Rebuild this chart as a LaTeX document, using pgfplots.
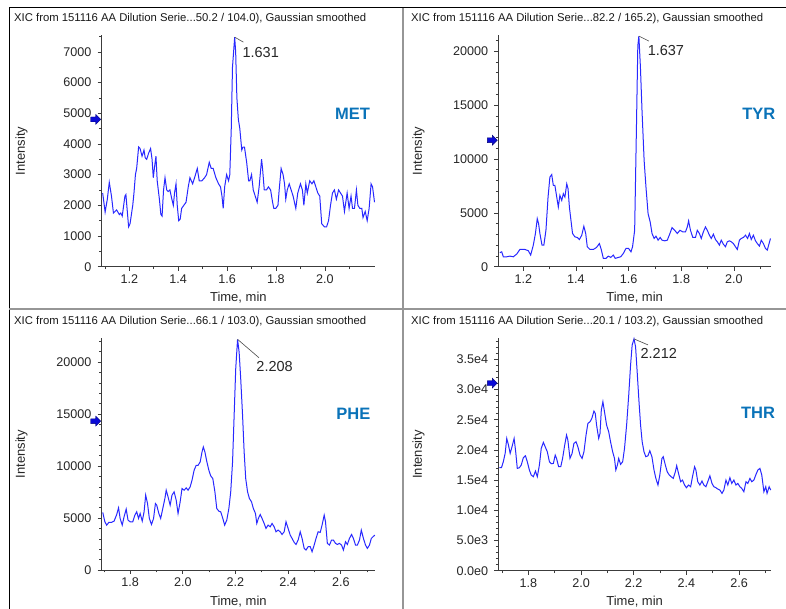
\documentclass[border=0pt]{standalone}
\usepackage{pgfplots}
\pgfplotsset{compat=1.18}
\usepackage{fontspec}
\setmainfont{Liberation Sans}
\definecolor{cmp}{RGB}{10,115,185}
\definecolor{trace}{RGB}{40,40,255}
\definecolor{axgray}{RGB}{60,60,60}
\definecolor{arr}{RGB}{10,10,215}
\definecolor{arrd}{RGB}{0,0,120}
\definecolor{sep}{RGB}{150,150,150}

\pgfplotstableread{
x y
1.091 2400
1.101 1780
1.110 2200
1.118 2750
1.127 2300
1.135 1750
1.148 1850
1.159 1700
1.165 1750
1.171 1650
1.182 2300
1.186 2350
1.197 1300
1.203 1400
1.214 2000
1.219 2400
1.225 3000
1.230 3200
1.238 3900
1.244 3850
1.252 3600
1.260 3800
1.265 3550
1.271 3500
1.279 3700
1.287 3850
1.293 3500
1.298 2900
1.304 3300
1.309 3600
1.314 2800
1.323 2200
1.329 1700
1.334 1650
1.340 2500
1.346 2900
1.353 2500
1.359 2450
1.366 2500
1.374 2200
1.380 2000
1.385 2400
1.391 2700
1.396 2000
1.402 1500
1.408 1550
1.414 1900
1.423 2000
1.432 2100
1.441 2600
1.448 2900
1.459 2700
1.467 2900
1.478 3200
1.486 2800
1.497 2800
1.508 2900
1.516 3000
1.527 3400
1.535 3200
1.543 3200
1.554 2900
1.565 2700
1.573 2600
1.579 2300
1.584 1900
1.590 2600
1.598 3000
1.606 2800
1.611 3000
1.617 4500
1.622 6500
1.631 7480
1.635 7000
1.640 5500
1.646 4800
1.652 4500
1.660 3800
1.665 3900
1.671 3900
1.680 3400
1.688 2800
1.693 2800
1.700 3000
1.707 2500
1.715 2300
1.723 2100
1.731 2600
1.741 3500
1.745 3200
1.752 2500
1.761 2500
1.769 2600
1.778 2500
1.786 2100
1.791 1900
1.799 1900
1.808 2000
1.813 2500
1.821 3200
1.829 3000
1.835 2700
1.840 2200
1.846 2500
1.854 2700
1.862 2500
1.870 2300
1.881 1900
1.889 2400
1.900 2700
1.908 2500
1.914 2000
1.922 2700
1.928 2400
1.938 2800
1.947 2700
1.955 2800
1.963 2600
1.971 2400
1.979 2300
1.987 1400
1.998 1300
2.007 1300
2.015 1500
2.023 2000
2.031 2400
2.039 2500
2.047 2200
2.056 2500
2.064 2400
2.072 2300
2.080 1800
2.091 2400
2.099 1900
2.107 2300
2.113 1900
2.121 1900
2.129 2500
2.135 2000
2.143 1900
2.151 1900
2.156 1600
2.165 1800
2.173 1500
2.181 1900
2.189 2700
2.195 2600
2.203 2100
}\met

\pgfplotstableread{
x y
1.111 1300
1.118 1380
1.124 920
1.137 920
1.149 980
1.162 920
1.175 1170
1.187 1600
1.206 1600
1.219 1480
1.228 1080
1.238 2000
1.246 3080
1.253 4460
1.258 4000
1.263 3080
1.271 2000
1.278 2000
1.286 3380
1.294 6460
1.301 8310
1.308 8550
1.314 7540
1.320 7540
1.327 6460
1.333 5540
1.339 6620
1.346 6150
1.352 6770
1.358 6460
1.365 7690
1.370 7230
1.375 5540
1.381 4310
1.387 3080
1.396 2770
1.405 2710
1.413 2520
1.422 2920
1.430 3750
1.437 3080
1.443 1850
1.453 1600
1.466 1600
1.478 1780
1.489 2150
1.496 1600
1.504 770
1.514 770
1.523 980
1.532 860
1.542 1080
1.549 770
1.561 860
1.570 920
1.580 1230
1.590 1690
1.600 1690
1.609 1380
1.615 1850
1.623 3380
1.630 13230
1.635 20500
1.639 21400
1.645 18460
1.651 14460
1.659 9850
1.666 7380
1.674 4920
1.682 4150
1.689 3080
1.697 2620
1.704 2830
1.712 2460
1.720 2710
1.727 2460
1.737 2400
1.747 2460
1.757 3080
1.765 3630
1.775 3380
1.785 3080
1.795 3380
1.806 3230
1.816 3230
1.823 3690
1.828 4250
1.835 3380
1.844 2710
1.854 2710
1.861 3380
1.869 3080
1.876 2620
1.884 3230
1.892 3690
1.899 3380
1.907 2920
1.914 2620
1.922 3020
1.930 2520
1.937 2310
1.945 2000
1.952 2460
1.960 2090
1.968 1850
1.975 2310
1.983 2400
1.990 2310
1.998 2150
2.006 1850
2.013 1600
2.021 2460
2.028 2620
2.036 2710
2.044 2920
2.052 2620
2.059 3080
2.066 2520
2.074 2920
2.082 2400
2.089 2150
2.097 1910
2.104 2460
2.112 2150
2.120 1690
2.127 1540
2.132 2000
2.139 2620
}\tyr

\pgfplotstableread{
x y
1.696 5540
1.704 4640
1.711 4320
1.719 4580
1.729 4580
1.739 4700
1.749 5340
1.756 5980
1.762 4960
1.770 4320
1.777 5120
1.785 5860
1.792 4800
1.800 4640
1.810 4640
1.818 5280
1.825 5600
1.832 4960
1.838 5440
1.846 4700
1.853 5600
1.859 7200
1.866 6400
1.873 4960
1.881 4380
1.889 4960
1.896 6400
1.901 6240
1.909 5440
1.916 4960
1.924 5920
1.932 6880
1.937 7680
1.944 7040
1.952 6240
1.959 7200
1.967 7520
1.975 6720
1.982 5440
1.990 6560
1.997 7840
2.005 7680
2.013 7900
2.020 7680
2.028 8000
2.035 8640
2.043 9600
2.051 10080
2.058 10080
2.066 10400
2.073 11360
2.078 11840
2.084 11360
2.091 10460
2.099 9600
2.106 9060
2.114 8800
2.122 7520
2.129 5920
2.137 5660
2.144 5600
2.152 4960
2.159 4320
2.167 4800
2.175 5920
2.182 7520
2.189 10400
2.195 14880
2.201 19360
2.208 22200
2.214 20960
2.220 18400
2.227 14880
2.233 11360
2.239 8800
2.246 7520
2.253 6880
2.261 6560
2.268 5920
2.276 5440
2.281 4480
2.287 4960
2.294 5340
2.301 4960
2.309 4480
2.316 4000
2.324 4320
2.332 4160
2.339 4480
2.347 4160
2.354 3680
2.362 3840
2.370 3680
2.377 3420
2.385 3680
2.392 4640
2.400 4000
2.408 3360
2.415 3040
2.423 2660
2.430 2460
2.438 2880
2.446 3680
2.453 3040
2.461 2080
2.468 1920
2.476 2240
2.484 2240
2.491 1760
2.499 2400
2.506 3040
2.514 3680
2.522 3620
2.529 4320
2.537 5280
2.542 4640
2.549 2560
2.557 2400
2.565 2880
2.572 2880
2.580 2560
2.587 2460
2.595 2560
2.603 2400
2.610 1920
2.618 2720
2.625 2460
2.633 3040
2.641 3420
2.648 3040
2.656 2400
2.663 2400
2.671 2880
2.678 3840
2.686 3040
2.694 2400
2.701 2080
2.709 2400
2.716 3040
2.729 3360
}\phe

\pgfplotstableread{
x y
1.690 17060
1.698 17060
1.705 18050
1.712 19430
1.718 21910
1.724 20920
1.731 19430
1.738 20530
1.746 21910
1.752 19700
1.758 16950
1.766 17060
1.773 17500
1.781 18710
1.789 19040
1.796 18050
1.804 16670
1.811 15840
1.819 15570
1.827 16500
1.834 15570
1.842 17500
1.849 20260
1.857 21250
1.864 20530
1.872 19700
1.880 18050
1.887 17720
1.895 17770
1.902 19150
1.907 18600
1.915 17220
1.923 17220
1.930 18600
1.938 20810
1.945 22470
1.950 21640
1.958 18600
1.966 19430
1.973 21090
1.981 21360
1.988 20530
1.996 19150
2.004 18600
2.011 19700
2.019 22470
2.026 24400
2.034 24670
2.041 25230
2.049 26440
2.054 26050
2.059 24120
2.067 21910
2.072 22740
2.077 26610
2.083 27990
2.089 26330
2.097 24120
2.105 23020
2.112 21360
2.120 19700
2.127 18600
2.132 16670
2.138 17500
2.143 18600
2.150 17610
2.158 18050
2.165 20260
2.173 24120
2.181 29090
2.188 34060
2.194 37370
2.201 38400
2.207 37090
2.213 32950
2.220 27990
2.226 24120
2.232 21360
2.239 19700
2.246 18880
2.254 19040
2.261 19870
2.269 18880
2.277 16670
2.284 15290
2.292 14190
2.299 15840
2.307 18600
2.312 18880
2.320 17500
2.327 16390
2.335 15840
2.342 15570
2.350 15290
2.358 16390
2.363 17390
2.370 16120
2.378 14740
2.385 15010
2.393 14190
2.400 13740
2.408 14190
2.416 13910
2.423 15570
2.431 17220
2.436 16670
2.443 14740
2.451 14190
2.459 14850
2.466 14190
2.474 13910
2.481 14740
2.489 15730
2.497 14460
2.504 13910
2.512 13740
2.519 13520
2.527 13360
2.535 12810
2.542 13360
2.550 15010
2.557 14190
2.565 15400
2.572 14460
2.580 15010
2.588 14190
2.595 14460
2.603 13910
2.610 13630
2.618 13080
2.626 14740
2.633 14460
2.641 15290
2.648 14740
2.656 15010
2.663 15840
2.671 16670
2.679 16950
2.686 15840
2.694 13080
2.701 13910
2.706 12810
2.714 13910
2.720 13360
}\thr

\pgfplotsset{
  xic/.style={
    scale only axis,
    axis lines=left,
    axis line style={axgray, line width=0.8pt, -},
    tick align=outside,
    major tick length=4pt,
    minor tick length=2.5pt,
    every tick/.style={axgray, line width=0.6pt},
    ymin=0,
    clip=false,
    scaled y ticks=false,
    scaled x ticks=false,
    tick label style={font=\fontsize{12.6}{14}\selectfont, text=black!85},
    label style={font=\fontsize{13}{15}\selectfont, text=black!85},
    xlabel={Time, min},
    ylabel={Intensity},
    xlabel style={at={(axis description cs:0.5,-0.135)}, anchor=center},
    ylabel style={at={(axis description cs:-0.293,0.5)}, anchor=center},
    yticklabel style={anchor=east, inner sep=0pt, xshift=-6pt},
    xticklabel style={anchor=north, inner sep=0pt, yshift=-4pt},
  },
}
\tikzset{leader/.style={draw=black!70, line width=0.6pt}}

\newcommand{\arrowmark}[1]{\filldraw[fill=arr, draw=arrd, line width=0.4pt, line join=miter] (#1) ++(-1pt,0pt) -- ++(-5pt,5pt) -- ++(0pt,-2.6pt) -- ++(-5pt,0pt) -- ++(0pt,-4.8pt) -- ++(5pt,0pt) -- ++(0pt,-2.6pt) -- cycle;}

\begin{document}
\begin{tikzpicture}[x=1pt,y=1pt]
\useasboundingbox[fill=white] (0pt,0pt) rectangle (786pt,609pt);
% frame
\draw[black, line width=1pt] (9pt,601pt) -- (786pt,601pt);
\draw[black, line width=1pt] (9pt,601pt) -- (9pt,0pt);
\draw[sep, line width=1.5pt] (403pt,601pt) -- (403pt,0pt);
\draw[sep, line width=1.5pt] (9pt,300pt) -- (786pt,300pt);

% titles
\node[anchor=base west, inner sep=0pt, font=\fontsize{11.3}{13}\selectfont, text=black!90] at (14pt,587.7pt) {XIC from 151116 AA Dilution Serie...50.2 / 104.0), Gaussian smoothed};
\node[anchor=base west, inner sep=0pt, font=\fontsize{11.3}{13}\selectfont, text=black!90] at (411pt,587.7pt) {XIC from 151116 AA Dilution Serie...82.2 / 165.2), Gaussian smoothed};
\node[anchor=base west, inner sep=0pt, font=\fontsize{11.3}{13}\selectfont, text=black!90] at (14pt,284pt) {XIC from 151116 AA Dilution Serie...66.1 / 103.0), Gaussian smoothed};
\node[anchor=base west, inner sep=0pt, font=\fontsize{11.3}{13}\selectfont, text=black!90] at (411pt,284pt) {XIC from 151116 AA Dilution Serie...20.1 / 103.2), Gaussian smoothed};

% MET
\begin{axis}[xic, at={(101.7pt,342.3pt)}, anchor=south west, width=273.3pt, height=231.7pt,
  xmin=1.087, xmax=2.205, ymax=7550,
  xtick={1.2,1.4,1.6,1.8,2.0}, xticklabels={1.2,1.4,1.6,1.8,2.0},
  minor xtick={1.1,1.3,1.5,1.7,1.9,2.1},
  ytick={0,1000,2000,3000,4000,5000,6000,7000},
  yticklabels={0,1000,2000,3000,4000,5000,6000,7000},
  minor ytick={500,1500,2500,3500,4500,5500,6500,7500}]
\addplot[trace, line width=1pt] table[x=x,y=y] {\met};
\coordinate (a1) at (axis cs:1.087,4800);
\coordinate (k1) at (axis cs:1.631,7480);
\end{axis}
\draw[leader] (k1) -- ++(8.7pt,-5pt) coordinate (p1);
\node[anchor=north west, inner sep=0pt, font=\fontsize{14.5}{16}\selectfont, text=black!85] at ([shift={(-1pt,-5pt)}]p1) {1.631};
\arrowmark{a1}
\node[font=\fontsize{16.5}{18}\selectfont\bfseries, text=cmp] at (352.5pt,495pt) {MET};

% TYR
\begin{axis}[xic, at={(498.3pt,342.3pt)}, anchor=south west, width=272.7pt, height=231.7pt,
  xmin=1.105, xmax=2.141, ymax=21500,
  xtick={1.2,1.4,1.6,1.8,2.0}, xticklabels={1.2,1.4,1.6,1.8,2.0},
  minor xtick={1.1,1.3,1.5,1.7,1.9,2.1},
  ytick={0,5000,10000,15000,20000},
  yticklabels={0,5000,10000,15000,20000},
  minor ytick={0,1000,...,21000}]
\addplot[trace, line width=1pt] table[x=x,y=y] {\tyr};
\coordinate (a2) at (axis cs:1.105,11740);
\coordinate (k2) at (axis cs:1.639,21400);
\end{axis}
\draw[leader] (k2) -- ++(10pt,-5pt) coordinate (p2);
\node[anchor=north west, inner sep=0pt, font=\fontsize{14.5}{16}\selectfont, text=black!85] at ([shift={(-1.3pt,-4pt)}]p2) {1.637};
\arrowmark{a2}
\node[font=\fontsize{16.5}{18}\selectfont\bfseries, text=cmp] at (758.8pt,495.5pt) {TYR};

% PHE
\begin{axis}[xic, at={(101.7pt,39pt)}, anchor=south west, width=273.3pt, height=231.7pt,
  xmin=1.692, xmax=2.730, ymax=22300,
  xtick={1.8,2.0,2.2,2.4,2.6}, xticklabels={1.8,2.0,2.2,2.4,2.6},
  minor xtick={1.7,1.9,2.1,2.3,2.5,2.7},
  ytick={0,5000,10000,15000,20000},
  yticklabels={0,5000,10000,15000,20000},
  minor ytick={0,1000,...,22000}]
\addplot[trace, line width=1pt] table[x=x,y=y] {\phe};
\coordinate (a3) at (axis cs:1.692,14325);
\coordinate (k3) at (axis cs:2.208,22200);
\end{axis}
\draw[leader] (k3) -- ++(21.4pt,-18.4pt) coordinate (p3);
\node[anchor=north west, inner sep=0pt, font=\fontsize{14.5}{16}\selectfont, text=black!85] at ([shift={(-2.7pt,-3.3pt)}]p3) {2.208};
\arrowmark{a3}
\node[font=\fontsize{16.5}{18}\selectfont\bfseries, text=cmp] at (353.3pt,195pt) {PHE};

% THR
\begin{axis}[xic, at={(498.3pt,38.3pt)}, anchor=south west, width=272.7pt, height=232.4pt,
  xmin=1.686, xmax=2.721, ymax=38500,
  xtick={1.8,2.0,2.2,2.4,2.6}, xticklabels={1.8,2.0,2.2,2.4,2.6},
  minor xtick={1.7,1.9,2.1,2.3,2.5,2.7},
  ytick={0,5000,10000,15000,20000,25000,30000,35000},
  yticklabels={0.0e0,5.0e3,1.0e4,1.5e4,2.0e4,2.5e4,3.0e4,3.5e4},
  minor ytick={0,1000,...,38000}]
\addplot[trace, line width=1pt] table[x=x,y=y] {\thr};
\coordinate (a4) at (axis cs:1.686,31076);
\coordinate (k4) at (axis cs:2.201,38400);
\end{axis}
\draw[leader] (k4) -- ++(14pt,-6pt) coordinate (p4);
\node[anchor=north west, inner sep=0pt, font=\fontsize{14.5}{16}\selectfont, text=black!85] at ([shift={(-7.6pt,-3.7pt)}]p4) {2.212};
\arrowmark{a4}
\node[font=\fontsize{16.5}{18}\selectfont\bfseries, text=cmp] at (758pt,195.7pt) {THR};
\end{tikzpicture}
\end{document}
